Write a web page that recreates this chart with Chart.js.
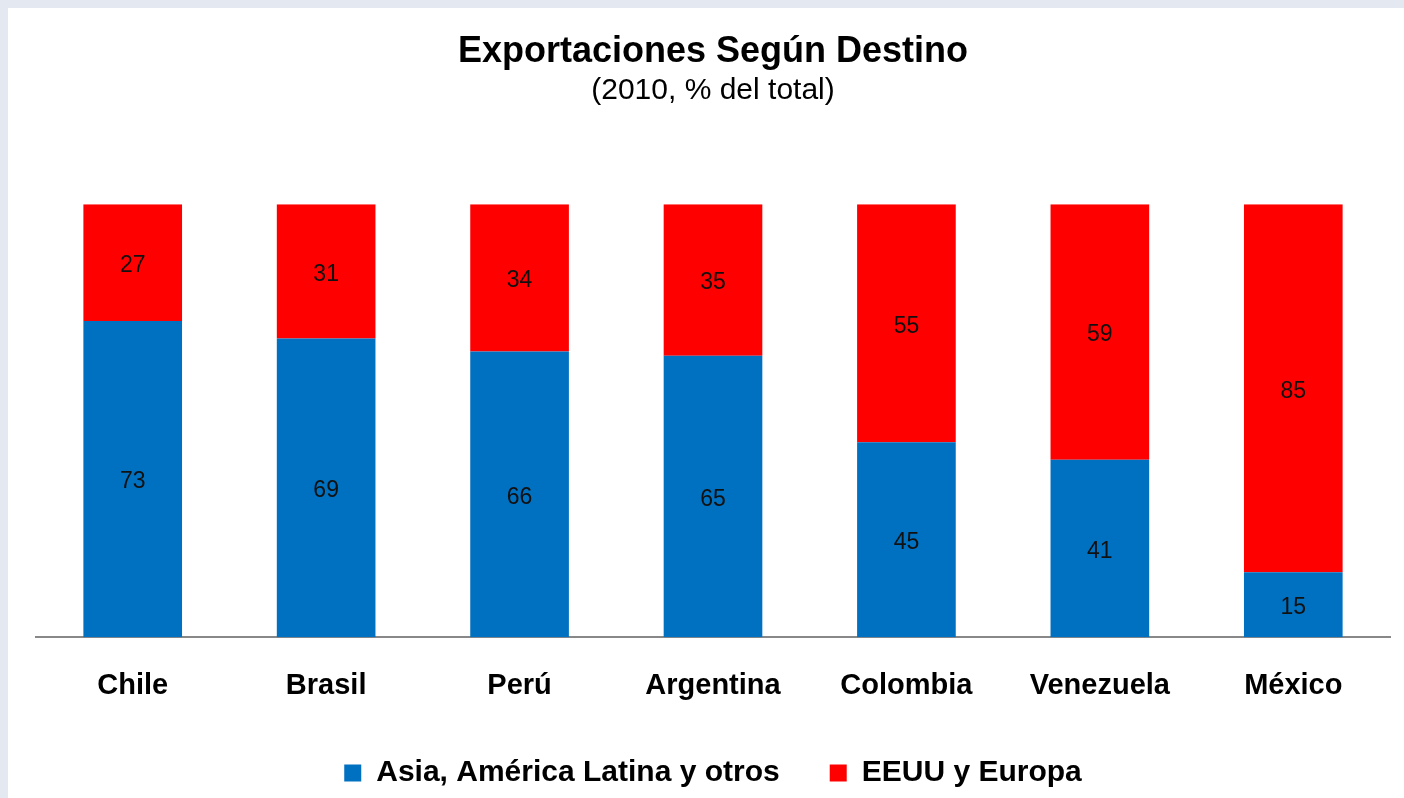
<!DOCTYPE html>
<html>
<head>
<meta charset="utf-8">
<script src="https://cdn.jsdelivr.net/npm/chart.js@4"></script>
<style>
    html, body { margin: 0; padding: 0; background: #e4e9f1; }
    #box { position: absolute; left: 8px; top: 8px; width: 1396px; height: 790px; background: #ffffff; }
</style>
</head>
<body>
<div id="box"><canvas id="myChart" width="1396" height="790"></canvas></div>
<script>
const countries = ["Chile", "Brasil", "Perú", "Argentina", "Colombia", "Venezuela", "México"];
const asiaLatam = [73, 69, 66, 65, 45, 41, 15]; // Asia, América Latina y otros
const usEurope = [27, 31, 34, 35, 55, 59, 85]; // EEUU y Europa

const fontFam = "Arial, 'Liberation Sans', sans-serif";

// writes the value in the middle of every bar segment
const segmentLabels = {
    id: "segmentLabels",
    afterDatasetsDraw(chart) {
        const ctx = chart.ctx;
        ctx.save();
        ctx.font = "23px " + fontFam;
        ctx.fillStyle = "#111111";
        ctx.textAlign = "center";
        ctx.textBaseline = "middle";
        chart.data.datasets.forEach((ds, i) => {
            chart.getDatasetMeta(i).data.forEach((bar, j) => {
                const mid = (bar.y + bar.base) / 2;
                ctx.fillText(ds.data[j], bar.x, mid + 3);
            });
        });
        ctx.restore();
    }
};

new Chart(document.getElementById("myChart"), {
    type: "bar",
    data: {
        labels: countries,
        datasets: [
            { label: "Asia, América Latina y otros", data: asiaLatam, backgroundColor: "#0070c0" },
            { label: "EEUU y Europa", data: usEurope, backgroundColor: "#ff0000" }
        ]
    },
    options: {
        responsive: false,
        animation: false,
        barPercentage: 0.51,
        categoryPercentage: 1,
        layout: { padding: { left: 28, right: 14, top: 0, bottom: 0 } },
        scales: {
            x: {
                stacked: true,
                grid: { display: false, drawTicks: false },
                border: { display: true, color: "#888888", width: 2 },
                ticks: { color: "#000000", padding: 31, font: { family: fontFam, size: 29, weight: "bold" } },
                // let the labels hang into the legend's empty top padding
                afterFit: (scale) => { scale.height -= 26; }
            },
            y: {
                stacked: true,
                display: false,
                min: 0,
                max: 100
            }
        },
        plugins: {
            title: {
                display: true,
                text: "Exportaciones Según Destino",
                color: "#000000",
                font: { family: fontFam, size: 36, weight: "bold" },
                padding: { top: 22, bottom: 0 }
            },
            subtitle: {
                display: true,
                text: "(2010, % del total)",
                color: "#000000",
                font: { family: fontFam, size: 30, weight: "normal" },
                padding: { top: 0, bottom: 95 }
            },
            legend: {
                position: "bottom",
                labels: {
                    color: "#000000",
                    boxWidth: 17,
                    boxHeight: 17,
                    padding: 50,
                    font: { family: fontFam, size: 30, weight: "bold" }
                }
            },
            tooltip: { enabled: false }
        }
    },
    plugins: [segmentLabels]
});
</script>
</body>
</html>
